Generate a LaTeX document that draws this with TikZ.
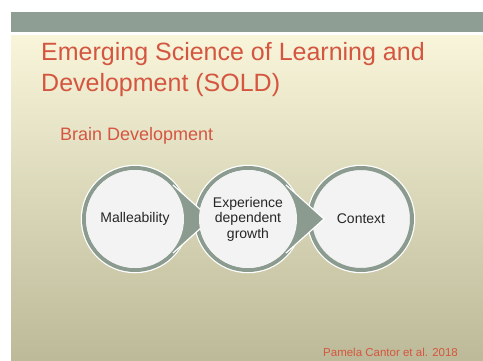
\documentclass[tikz,border=0pt]{standalone}
\usepackage{fontspec}
\setmainfont{Liberation Sans}
\usetikzlibrary{positioning}

\begin{document}
\begin{tikzpicture}[x=1pt, y=-1pt]
    \definecolor{banda}{rgb}{0.561,0.620,0.580}
    \definecolor{fundsus}{rgb}{0.973,0.961,0.855}
    \definecolor{fundjos}{rgb}{0.737,0.729,0.596}
    \definecolor{inel}{rgb}{0.545,0.608,0.565}
    \definecolor{interior}{rgb}{0.949,0.953,0.949}
    \definecolor{rosu}{rgb}{0.835,0.337,0.251}
    \definecolor{text}{rgb}{0.150,0.150,0.150}

    \tikzstyle{cerc} = [circle, inner sep=0pt, outer sep=0pt, minimum size=102pt,
                        draw=inel, line width=4pt, fill=interior,
                        preaction={draw=white, line width=6.5pt}]
    \tikzstyle{sageata} = [fill=inel]
    \tikzstyle{contur} = [draw=white, line width=1.2pt, line join=miter]
    \tikzstyle{titlu} = [anchor=base west, inner sep=0pt, text=rosu]
    \tikzstyle{eticheta} = [align=center, text=text, font=\fontsize{14}{15.5}\selectfont]

    % Fundalul diapozitivului.
    \fill[white] (0,0) rectangle (483,360);
    \fill[banda] (11,12) rectangle (483,32);
    \shade[top color=fundsus, bottom color=fundjos] (11,35) rectangle (483,360);

    % Titlurile.
    \node[titlu, font=\fontsize{25}{31}\selectfont] (tit1) at (41,60) {Emerging Science of Learning and};
    \node[titlu, font=\fontsize{25}{31}\selectfont] (tit2) at (41,91) {Development (SOLD)};
    \node[titlu, font=\fontsize{18}{22}\selectfont] (sub) at (60,140) {Brain Development};

    % Cercurile.
    \foreach \i/\x in {1/135, 2/248, 3/361}
        \node[cerc] (c\i) at (\x,219) {};

    % Sagetile dintre cercuri.
    \foreach \i in {1,2} {
        \coordinate (varf\i) at ([xshift=76pt]c\i.center);
        \fill[sageata] (c\i.42) -- (varf\i) -- (c\i.-42) -- (c\i.center) -- cycle;
        \draw[contur] (c\i.42) -- (varf\i) -- (c\i.-42);
        \fill[interior] (c\i.center) circle (49);
    }

    % Textele din cercuri.
    \node[eticheta] (t1) at (c1) {Malleability};
    \node[eticheta] (t2) at (c2) {Experience\\dependent\\growth};
    \node[eticheta] (t3) at (c3) {Context};

    \node[titlu, font=\fontsize{11.5}{14}\selectfont] (autor) at (323,356) {Pamela Cantor et al. 2018};
\end{tikzpicture}
\end{document}
